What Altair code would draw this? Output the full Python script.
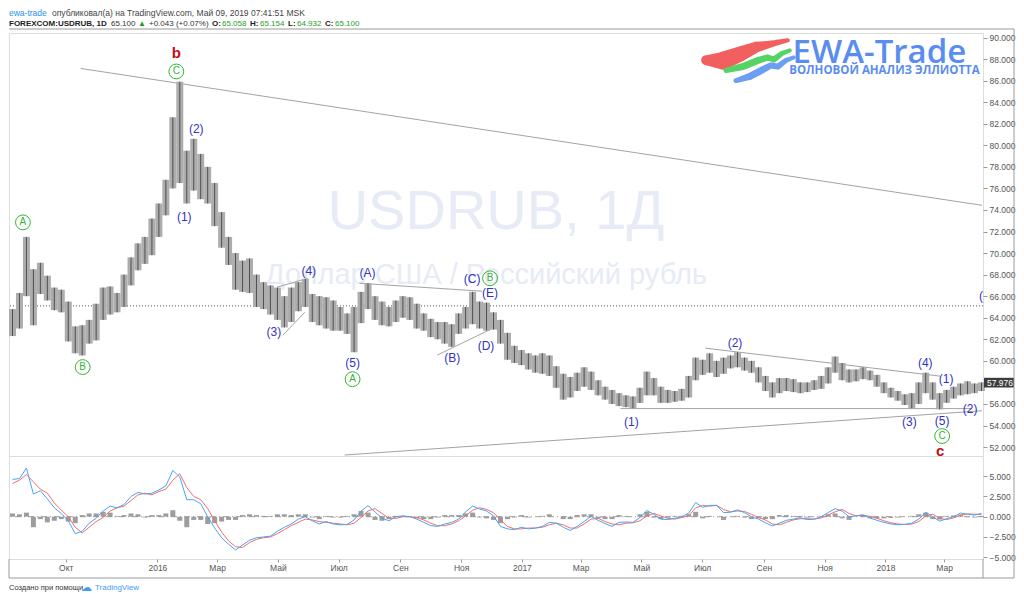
import altair as alt
import pandas as pd

# ---------------- values ----------------
week_start = "2015-08-08T12:00:00Z"  # centre of first weekly bar

week_high = [64.8, 66.3, 71.5, 68.5, 69.1, 67.9, 66.8, 66.6, 65.5, 63.2,
             63.3, 63.8, 65.3, 66.8, 66.9, 66.3, 68.0, 69.6, 70.9, 71.5,
             73.2, 74.6, 76.8, 82.6, 85.9, 79.5, 80.6, 79.2, 78.0, 76.5,
             73.8, 71.5, 70.0, 69.3, 69.5, 68.0, 67.3, 67.0, 66.8, 66.0,
             66.8, 67.3, 67.6, 66.2, 66.0, 65.9, 65.6, 65.0, 64.4, 65.0,
             66.4, 67.2, 66.0, 65.5, 65.0, 65.6, 66.0, 65.9, 65.3, 64.4,
             63.9, 63.6, 63.6, 63.4, 64.4, 65.0, 66.4, 65.5, 65.4, 64.5,
             63.8, 62.6, 61.4, 61.0, 60.7, 60.5, 60.7, 60.5, 59.5, 58.8,
             58.5, 58.9, 59.4, 59.0, 58.2, 57.6, 57.3, 57.0, 56.8, 56.7,
             57.5, 59.0, 58.4, 57.6, 57.3, 57.2, 57.4, 58.6, 60.3, 60.1,
             60.7, 60.0, 60.3, 60.5, 60.8, 60.3, 60.0, 59.4, 58.6, 58.0,
             58.4, 58.4, 58.3, 58.0, 58.0, 58.2, 58.6, 59.4, 60.4, 59.8,
             59.2, 59.2, 59.4, 59.1, 58.7, 58.0, 57.5, 57.2, 56.9, 57.0,
             58.0, 58.9, 58.0, 57.0, 57.3, 57.6, 57.9, 58.1, 57.9, 58.0]

week_low = [62.3, 63.0, 66.0, 63.3, 66.2, 65.6, 64.7, 64.5, 61.8, 60.7,
            60.5, 61.6, 61.9, 63.8, 64.3, 64.5, 65.0, 67.0, 68.4, 69.0,
            69.8, 71.5, 73.5, 76.0, 76.5, 74.6, 75.8, 75.0, 74.6, 72.5,
            70.5, 68.9, 66.6, 66.4, 66.3, 65.0, 64.8, 64.3, 63.8, 63.1,
            63.6, 64.6, 65.0, 63.6, 63.3, 63.0, 62.8, 62.8, 62.5, 60.8,
            63.5, 64.8, 63.8, 63.3, 63.2, 63.6, 64.0, 63.8, 63.0, 62.8,
            62.2, 62.0, 61.6, 61.3, 62.5, 63.0, 63.4, 63.0, 62.8, 62.9,
            61.6, 60.1, 59.8, 59.6, 59.2, 58.9, 58.8, 58.6, 57.5, 56.4,
            56.6, 57.2, 57.6, 57.3, 56.8, 56.4, 56.0, 55.8, 55.7, 55.6,
            56.1, 56.8, 56.8, 56.1, 56.1, 56.2, 56.3, 56.6, 58.2, 58.7,
            58.9, 58.5, 58.8, 59.3, 59.4, 59.1, 58.9, 58.0, 57.2, 56.6,
            57.0, 57.2, 57.1, 57.0, 57.1, 57.3, 57.4, 57.9, 58.9, 58.2,
            58.0, 58.1, 58.3, 58.2, 57.6, 57.0, 56.6, 56.3, 55.9, 55.6,
            56.0, 57.0, 56.4, 55.5, 56.1, 56.5, 56.8, 56.9, 57.0, 57.2]

macd_line = [4.6, 4.7, 6.0, 2.8, 3.2, 2.2, 1.1, 0.4, -0.5, -2.1,
             -1.8, -0.8, -0.2, 0.7, 1.3, 1.1, 1.5, 2.5, 3.0, 2.8,
             2.9, 3.3, 3.8, 5.7, 4.9, 2.1, 2.1, 1.6, 0.0, -1.4,
             -2.6, -3.4, -4.1, -3.5, -2.9, -2.6, -2.5, -2.4, -1.8, -1.3,
             -0.9, -0.3, 0.0, -0.5, -0.9, -0.6, -0.9, -1.0, -0.95, -0.4,
             0.7, 1.36, 0.6, -0.2, -0.5, 0.0, 0.1, 0.0, -0.3, -0.7,
             -1.1, -1.2, -0.9, -0.7, -0.3, 0.6, 1.3, 0.95, 0.7, 0.1,
             -1.2, -1.5, -1.6, -1.3, -1.5, -1.4, -1.2, -0.7, -0.8, -1.3,
             -1.7, -1.2, -0.6, 0.05, -0.45, -0.85, -1.2, -0.7, -0.65, -0.7,
             -0.1, 0.75, 0.3, -0.3, -0.35, -0.2, 0.0, 0.45, 1.75, 1.15,
             1.4, 1.4, 0.5, 0.55, 0.85, 0.5, 0.0, -0.3, -0.75, -1.15,
             -0.8, -0.45, -0.3, -0.12, -0.35, -0.3, 0.0, 0.5, 1.0, 0.7,
             0.0, 0.1, 0.25, -0.15, -0.45, -0.7, -0.9, -1.0, -0.95, -0.8,
             -0.3, 0.55, 0.0, -0.55, -0.25, 0.0, 0.45, 0.3, 0.2, 0.4]

macd_signal = [4.1, 4.5, 5.2, 4.3, 3.4, 2.9, 1.7, 0.8, 0.0, -1.3,
               -2.0, -1.3, -0.6, -0.1, 0.7, 1.1, 1.3, 2.0, 2.7, 2.9,
               2.7, 3.1, 3.4, 4.5, 5.3, 3.6, 2.5, 2.1, 1.0, -0.5,
               -1.9, -3.0, -3.7, -3.8, -3.2, -2.8, -2.6, -2.5, -2.1, -1.6,
               -1.1, -0.7, -0.3, -0.4, -0.6, -0.7, -0.8, -0.9, -1.0, -0.8,
               -0.1, 0.7, 1.0, 0.4, -0.2, -0.2, 0.0, 0.0, -0.1, -0.4,
               -0.8, -1.1, -1.1, -0.9, -0.5, 0.1, 0.8, 1.1, 0.9, 0.5,
               -0.4, -1.2, -1.5, -1.5, -1.4, -1.4, -1.3, -1.0, -0.8, -1.0,
               -1.4, -1.4, -0.9, -0.3, -0.2, -0.6, -0.9, -1.0, -0.8, -0.75,
               -0.5, 0.1, 0.4, 0.1, -0.2, -0.3, -0.1, 0.1, 1.1, 1.4,
               1.3, 1.4, 0.9, 0.6, 0.7, 0.65, 0.3, -0.1, -0.4, -0.9,
               -1.0, -0.7, -0.4, -0.25, -0.25, -0.3, -0.15, 0.2, 0.6, 0.9,
               0.4, 0.1, 0.15, 0.05, -0.2, -0.5, -0.75, -0.9, -0.95, -0.9,
               -0.6, 0.1, 0.3, -0.2, -0.35, -0.15, 0.2, 0.35, 0.3, 0.3]

macd_hist = [0.4, 0.3, 0.5, -1.3, -0.3, -0.7, -0.5, -0.3, -0.6, -0.8,
             0.2, 0.4, 0.4, 0.6, 0.5, 0.1, 0.2, 0.4, 0.3, -0.1,
             0.2, 0.2, 0.4, 0.8, -0.5, -1.3, -0.4, -0.4, -0.9, -0.8,
             -0.6, -0.4, -0.4, 0.2, 0.3, 0.2, 0.1, 0.1, 0.3, 0.3,
             0.2, 0.3, 0.3, -0.1, -0.3, 0.1, -0.1, -0.1, 0.1, 0.3,
             0.7, 0.5, -0.4, -0.5, -0.3, 0.1, 0.1, 0.0, -0.2, -0.3,
             -0.3, -0.1, 0.2, 0.2, 0.2, 0.4, 0.5, -0.1, -0.2, -0.4,
             -0.8, -0.3, -0.1, 0.2, -0.1, 0.0, 0.1, 0.3, 0.0, -0.3,
             -0.3, 0.2, 0.3, 0.3, -0.2, -0.3, -0.3, 0.2, 0.1, 0.0,
             0.3, 0.6, -0.1, -0.3, -0.1, 0.1, 0.1, 0.3, 0.6, -0.2,
             0.1, 0.0, -0.4, 0.0, 0.1, -0.1, -0.3, -0.2, -0.3, -0.3,
             0.2, 0.2, 0.1, 0.1, -0.1, 0.0, 0.1, 0.3, 0.4, -0.2,
             -0.4, 0.0, 0.1, -0.2, -0.2, -0.2, -0.15, -0.1, 0.0, 0.1,
             0.3, 0.5, -0.3, -0.35, 0.1, 0.15, 0.25, -0.05, -0.1, 0.1]

wave_dates = ["2016-01-28", "2016-02-09", "2016-04-27", "2016-06-01", "2016-07-15",
              "2016-07-30", "2016-10-23", "2016-11-12", "2016-11-30", "2016-11-26",
              "2017-04-21", "2017-08-03", "2018-01-25", "2018-02-10", "2018-03-03",
              "2018-03-27", "2018-02-27", "2018-04-07"]
wave_prices = [73.32, 81.47, 62.66, 68.31, 59.79, 68.13, 60.25, 67.57, 66.27, 61.36,
               54.32, 61.64, 54.32, 59.79, 58.30, 55.52, 54.41, 66.0]
wave_labels = ["(1)", "(2)", "(3)", "(4)", "(5)", "(A)", "(B)", "(C)", "(E)", "(D)",
               "(1)", "(2)", "(3)", "(4)", "(1)", "(2)", "(5)", "("]

circle_dates = ["2015-08-19", "2015-10-18", "2016-01-20", "2016-07-15", "2016-11-30", "2018-02-27"]
circle_prices = [72.85, 59.42, 86.85, 58.30, 67.66, 53.02]
circle_letters = ["A", "B", "C", "A", "B", "C"]

red_dates = ["2016-01-20", "2018-02-25"]
red_prices = [88.52, 51.63]
red_letters = ["b", "c"]

line_start_dates = ["2015-10-16", "2016-07-07", "2017-04-10", "2017-07-04",
                    "2016-05-06", "2016-04-30", "2016-07-22", "2016-10-08"]
line_start_prices = [87.13, 51.26, 55.57, 61.18, 62.38, 66.83, 67.20, 60.53]
line_end_dates = ["2018-04-08", "2018-04-08", "2018-03-29", "2018-02-25",
                  "2016-05-28", "2016-05-31", "2016-11-22", "2016-12-01"]
line_end_prices = [74.43, 55.37, 55.57, 58.58, 64.51, 67.66, 66.46, 62.94]

current_price = 65.10
last_price = 57.976
price_ticks = [52, 54, 56, 60, 62, 64, 66, 68, 70, 72, 74, 76, 78, 80, 82, 84, 86, 88, 90]
macd_ticks = [-5, -2.5, 0, 2.5, 5]
month_ticks = [(2015, 10), (2016, 1), (2016, 3), (2016, 5), (2016, 7), (2016, 9), (2016, 11),
               (2017, 1), (2017, 3), (2017, 5), (2017, 7), (2017, 9), (2017, 11),
               (2018, 1), (2018, 3)]

watermark_dates = ["2016-12-06", "2016-11-26"]
watermark_prices = [73.78, 67.94]
watermark_texts = ["USDRUB, 1Д", "Доллар США / Российский рубль"]

# logo ribbons (EWA-Trade emblem)
ribbon_names = ["r"] * 7 + ["g"] * 7 + ["b"] * 7
ribbon_dates = ["2017-07-05", "2017-07-22", "2017-08-09", "2017-08-24", "2017-09-03", "2017-09-13", "2017-09-25",
                "2017-07-25", "2017-08-11", "2017-08-26", "2017-09-05", "2017-09-11", "2017-09-19", "2017-09-27",
                "2017-08-04", "2017-08-18", "2017-08-31", "2017-09-08", "2017-09-15", "2017-09-23", "2017-10-01"]
ribbon_prices = [87.9, 87.85, 88.5, 89.1, 89.3, 89.5, 89.75,
                 86.94, 87.31, 87.87, 88.15, 87.96, 88.52, 88.80,
                 86.01, 86.39, 87.03, 87.41, 87.31, 87.87, 88.15]
ribbon_widths = [10, 18, 15, 11, 8, 6, 4,
                 5, 7, 7, 6, 6, 5, 4,
                 5, 7, 7, 6, 6, 5, 4]

# ---------------- layout / styling ----------------
W, H1, H2 = 974, 423, 103
FONT = "Liberation Sans"
GRID = "#9a9a9a"
BLUE = "#3232c4"
GREEN = "#33b533"
UP = "#1e9e1e"

week_dates = pd.date_range(week_start, periods=len(week_high), freq="7D").strftime("%Y-%m-%dT%H:%M:%SZ").tolist()

xscale = alt.Scale(type="utc", domain=[alt.DateTime(year=2015, month=8, date=5, utc=True),
                                       alt.DateTime(year=2018, month=4, date=9, utc=True)])
pscale = alt.Scale(domain=[51.17, 90.42], nice=False, zero=False)
paxis = alt.Axis(orient="right", values=price_ticks, format=".3f", title=None, grid=False,
                 domain=False, tickSize=4, tickColor=GRID, labelFontSize=8.5,
                 labelColor="#555555", labelFont=FONT, labelPadding=2)
mscale = alt.Scale(domain=[-5.22, 7.49], nice=False, zero=False)
maxis = alt.Axis(orient="right", values=macd_ticks, format=".3f", title=None, grid=False,
                 domain=False, tickSize=4, tickColor=GRID, labelFontSize=8.5,
                 labelColor="#555555", labelFont=FONT, labelPadding=2)
month_expr = ("utcmonth(datum.value) == 0 ? utcFormat(datum.value, '%Y') : "
              "['Янв','Фев','Мар','Апр','Май','Июн','Июл','Авг','Сен','Окт','Ноя','Дек'][utcmonth(datum.value)]")
xaxis = alt.Axis(values=[alt.DateTime(year=y, month=m, date=1, utc=True) for y, m in month_ticks],
                 labelExpr=month_expr, title=None, grid=False, domain=False, tickSize=3,
                 tickColor=GRID, labelFontSize=8.5, labelColor="#555555", labelFont=FONT,
                 labelPadding=1, labelOverlap=False)


def XP(field):
    return alt.X(f"{field}:T", scale=xscale, axis=None)


def XM(field):
    return alt.X(f"{field}:T", scale=xscale, axis=xaxis)


def P(field):
    return alt.Y(f"{field}:Q", scale=pscale, axis=paxis)


def M(field):
    return alt.Y(f"{field}:Q", scale=mscale, axis=maxis)


one = pd.DataFrame({"t": [""]})


def label(text, x, y, color="#333333", size=8, weight="normal", font=FONT, align="left"):
    return alt.Chart(pd.DataFrame({"t": [text]})).mark_text(
        align=align, baseline="middle", color=color, fontSize=size, fontWeight=weight, font=font
    ).encode(x=alt.value(x), y=alt.value(y), text="t:N")


def frame(x, x2, y, y2):
    return alt.Chart(one).mark_rule(color=GRID, strokeWidth=1).encode(
        x=alt.value(x), x2=alt.value(x2), y=alt.value(y), y2=alt.value(y2))


# ---------------- main price panel ----------------
bars_df = pd.DataFrame({"date": week_dates, "high": week_high, "low": week_low})
wm_df = pd.DataFrame({"date": watermark_dates, "price": watermark_prices, "t": watermark_texts})
trend_df = pd.DataFrame({"d1": line_start_dates, "p1": line_start_prices,
                         "d2": line_end_dates, "p2": line_end_prices})
wave_df = pd.DataFrame({"date": wave_dates, "price": wave_prices, "t": wave_labels})
circ_df = pd.DataFrame({"date": circle_dates, "price": circle_prices, "t": circle_letters})
red_df = pd.DataFrame({"date": red_dates, "price": red_prices, "t": red_letters})
rib_df = pd.DataFrame({"date": ribbon_dates, "price": ribbon_prices, "w": ribbon_widths,
                       "rib": ribbon_names, "i": list(range(len(ribbon_names)))})
rib_colors = alt.Scale(domain=["r", "g", "b"], range=["#f25f5f", "#55d465", "#6c9ff2"])

wm_big = alt.Chart(wm_df.iloc[[0]]).mark_text(fontSize=56, color="#e6ebf6", font=FONT).encode(
    x=XP("date"), y=P("price"), text="t:N")
wm_small = alt.Chart(wm_df.iloc[[1]]).mark_text(fontSize=29, color="#e6ebf6", font=FONT).encode(
    x=XP("date"), y=P("price"), text="t:N")

ribbons = alt.Chart(rib_df).mark_trail().encode(
    x=XP("date"), y=P("price"),
    size=alt.Size("w:Q", scale=None, legend=None),
    color=alt.Color("rib:N", scale=rib_colors, legend=None),
    detail="rib:N", order="i:Q")
logo_big = alt.Chart(pd.DataFrame({"date": ["2017-12-26"], "price": [88.61], "t": ["EWA-Trade"]})).mark_text(
    fontSize=33, font="Open Sans", fontWeight=600, color="#5a8df0").encode(x=XP("date"), y=P("price"), text="t:N")
logo_small = alt.Chart(pd.DataFrame({"date": ["2017-12-31"], "price": [86.85],
                                     "t": ["ВОЛНОВОЙ АНАЛИЗ ЭЛЛИОТТА"]})).mark_text(
    fontSize=11.5, font="Open Sans", fontWeight="bold", color="#5a8df0").encode(x=XP("date"), y=P("price"), text="t:N")

trend = alt.Chart(trend_df).mark_rule(color="#a3a3a3", strokeWidth=1).encode(
    x=XP("d1"), x2="d2:T", y=P("p1"), y2="p2:Q")
cur_line = alt.Chart(pd.DataFrame({"p": [current_price]})).mark_rule(
    color="#555555", strokeDash=[1, 2], strokeWidth=1).encode(y=P("p"))

bar_wide = alt.Chart(bars_df).mark_rule(strokeWidth=7, color="#adadad").encode(
    x=XP("date"), y=P("low"), y2="high:Q")
bar_thin = alt.Chart(bars_df).mark_rule(strokeWidth=1, color="#4f4f4f").encode(
    x=XP("date"), y=P("low"), y2="high:Q")

waves = alt.Chart(wave_df).mark_text(fontSize=12, color=BLUE, font=FONT).encode(
    x=XP("date"), y=P("price"), text="t:N")
circles = alt.Chart(circ_df).mark_point(shape="circle", size=220, filled=False, color=GREEN,
                                        strokeWidth=1, opacity=1).encode(x=XP("date"), y=P("price"))
circle_txt = alt.Chart(circ_df).mark_text(fontSize=10, color=GREEN, font=FONT).encode(
    x=XP("date"), y=P("price"), text="t:N")
reds = alt.Chart(red_df).mark_text(fontSize=15, fontWeight="bold", color="#c0101a", font=FONT).encode(
    x=XP("date"), y=P("price"), text="t:N")

last_box = alt.Chart(pd.DataFrame({"top": [last_price + 0.45], "bot": [last_price - 0.45]})).mark_rect(
    color="#3c3c3c").encode(x=alt.value(W + 1), x2=alt.value(W + 31), y=P("top"), y2="bot:Q")
last_txt = alt.Chart(pd.DataFrame({"p": [last_price], "t": [f"{last_price:.3f}"]})).mark_text(
    align="left", color="white", fontSize=8.5, font=FONT).encode(x=alt.value(W + 4), y=P("p"), text="t:N")

header = [
    label("ewa-trade", 0, -20, color="#2a8ff0", size=8.5),
    label("опубликовал(а) на TradingView.com, Май 09, 2019 07:41:51 MSK", 43, -20, color="#444444", size=8.5),
    label("FOREXCOM:USDRUB, 1D", 0, -9, color="#222222", weight="bold"),
    label("65.100", 102, -9, color="#333333"),
    label("▲", 129, -9, color=UP),
    label("+0.043 (+0.07%)", 140, -9, color="#333333"),
    label("O:", 203, -9, color="#222222", weight="bold"),
    label("65.058", 213, -9, color=UP),
    label("H:", 241, -9, color="#222222", weight="bold"),
    label("65.154", 251, -9, color=UP),
    label("L:", 279, -9, color="#222222", weight="bold"),
    label("64.932", 288, -9, color=UP),
    label("C:", 316, -9, color="#222222", weight="bold"),
    label("65.100", 326, -9, color=UP),
]

main = alt.layer(
    wm_big, wm_small, ribbons, logo_big, logo_small, trend, cur_line, bar_wide, bar_thin,
    waves, circles, circle_txt, reds, last_box, last_txt,
    frame(0, W + 31, -4, -4), frame(W + 31, W + 31, -4, H1),
    *header,
).properties(width=W, height=H1)

# ---------------- MACD panel ----------------
macd_df = pd.DataFrame({"date": week_dates, "macd": macd_line, "signal": macd_signal,
                        "hist": macd_hist, "zero": [0.0] * len(week_dates)})

zero_line = alt.Chart(pd.DataFrame({"z": [0.0]})).mark_rule(
    color="#a0a0a0", strokeDash=[6, 3, 1, 3], strokeWidth=1).encode(y=M("z"))
hist = alt.Chart(macd_df).mark_rule(strokeWidth=5, color="#8c8c8c", opacity=0.85).encode(
    x=XM("date"), y=M("zero"), y2="hist:Q")
sig = alt.Chart(macd_df).mark_line(color="#f26d6d", strokeWidth=1).encode(x=XM("date"), y=M("signal"))
mline = alt.Chart(macd_df).mark_line(color="#4aa3f5", strokeWidth=1).encode(x=XM("date"), y=M("macd"))

footer = [
    label("Создано при помощи", 0, H2 + 29, color="#333333", size=7.5),
    label("☁", 72, H2 + 29, color="#3d9cf4", size=11, font="DejaVu Sans"),
    label("TradingView", 86, H2 + 29, color="#3d9cf4", size=8),
]

macd = alt.layer(
    zero_line, hist, sig, mline,
    frame(0, W + 31, H2 + 19, H2 + 19), frame(W + 31, W + 31, 0, H2 + 19),
    frame(0, 0, H2, H2 + 19), frame(W, W, H2, H2 + 19),
    *footer,
).properties(width=W, height=H2)

chart = alt.vconcat(main, macd, spacing=0, bounds="flush").resolve_scale(
    x="independent", y="independent"
).properties(
    padding=0, background="white"
).configure_view(
    stroke="#8f8f8f", strokeWidth=1
).configure(font=FONT)

chart.save("out.html", embed_options={"renderer": "svg", "actions": False})
